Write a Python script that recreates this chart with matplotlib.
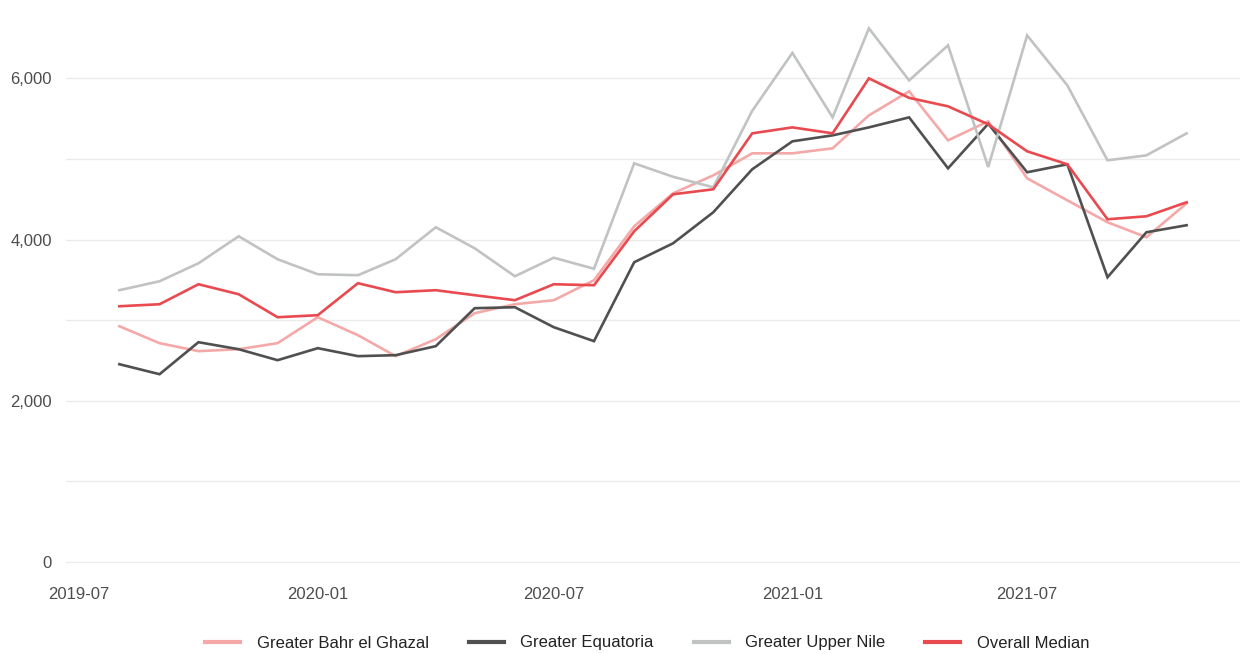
import matplotlib
matplotlib.use("Agg")
import matplotlib.pyplot as plt
import matplotlib.dates as mdates
from matplotlib.ticker import FuncFormatter, MultipleLocator
import pandas as pd
import numpy as np

plt.rcParams["font.family"] = ["Liberation Sans Narrow", "Liberation Sans", "DejaVu Sans"]

months = pd.date_range("2019-08-01", "2021-11-01", freq="MS")

bahr_el_ghazal = [2925, 2715, 2616, 2640, 2715, 3037, 2814, 2554, 2764, 3087,
                  3198, 3248, 3496, 4165, 4574, 4797, 5070, 5070, 5132, 5541,
                  5839, 5231, 5467, 4760, 4487, 4215, 4029, 4450]
equatoria = [2454, 2330, 2727, 2640, 2504, 2653, 2554, 2566, 2678, 3149,
             3161, 2913, 2740, 3719, 3954, 4339, 4872, 5219, 5293, 5392,
             5516, 4884, 5436, 4835, 4934, 3533, 4091, 4178]
upper_nile = [3372, 3483, 3706, 4041, 3756, 3570, 3558, 3756, 4153, 3892,
              3545, 3775, 3638, 4946, 4779, 4649, 5597, 6316, 5516, 6620,
              5975, 6409, 4900, 6533, 5913, 4983, 5045, 5318]
overall_median = [3173, 3198, 3446, 3322, 3037, 3062, 3459, 3347, 3372, 3310,
                  3248, 3446, 3434, 4103, 4562, 4624, 5318, 5392, 5318, 6000,
                  5758, 5653, 5430, 5095, 4934, 4252, 4289, 4463]

series = {
    "Greater Bahr el Ghazal": (bahr_el_ghazal, "#f4a9a8"),
    "Greater Equatoria": (equatoria, "#505050"),
    "Greater Upper Nile": (upper_nile, "#c1c3c3"),
    "Overall Median": (overall_median, "#e84a4f"),
}

fig = plt.figure(figsize=(12.4, 6.54), dpi=100)
ax = fig.add_axes([66 / 1240, (654 - 583) / 654, 1 - 66 / 1240, 583 / 654])

for name, (vals, color) in series.items():
    ax.plot(months, vals, color=color, lw=1.9, label=name, solid_joinstyle="miter")

# ggplot-like expansion
span = months[-1] - months[0]
ax.set_xlim(months[0] - span * 0.05, months[-1] + span * 0.05)
ax.set_ylim(-260, 6972)

ax.xaxis.set_major_locator(mdates.MonthLocator(bymonth=[1, 7]))
ax.xaxis.set_major_formatter(mdates.DateFormatter("%Y-%m"))
ax.yaxis.set_major_locator(MultipleLocator(2000))
ax.yaxis.set_minor_locator(MultipleLocator(1000))
ax.yaxis.set_major_formatter(FuncFormatter(lambda v, p: f"{int(v):,}"))

ax.grid(axis="y", which="both", color="#ebebeb", lw=1.0)
ax.set_axisbelow(True)
for s in ax.spines.values():
    s.set_visible(False)
ax.tick_params(axis="both", which="both", length=0, labelsize=12, colors="#4d4d4d")
ax.tick_params(axis="y", pad=10)
ax.tick_params(axis="x", pad=3)

leg = fig.legend(loc="center", bbox_to_anchor=(0.522, 1 - 643 / 654), ncol=4,
                 frameon=False, fontsize=12, handlelength=2.1, handletextpad=1.0,
                 columnspacing=2.4)
for line in leg.get_lines():
    line.set_linewidth(3)
for t in leg.get_texts():
    t.set_color("#222222")

fig.savefig("out.png", dpi=100)
